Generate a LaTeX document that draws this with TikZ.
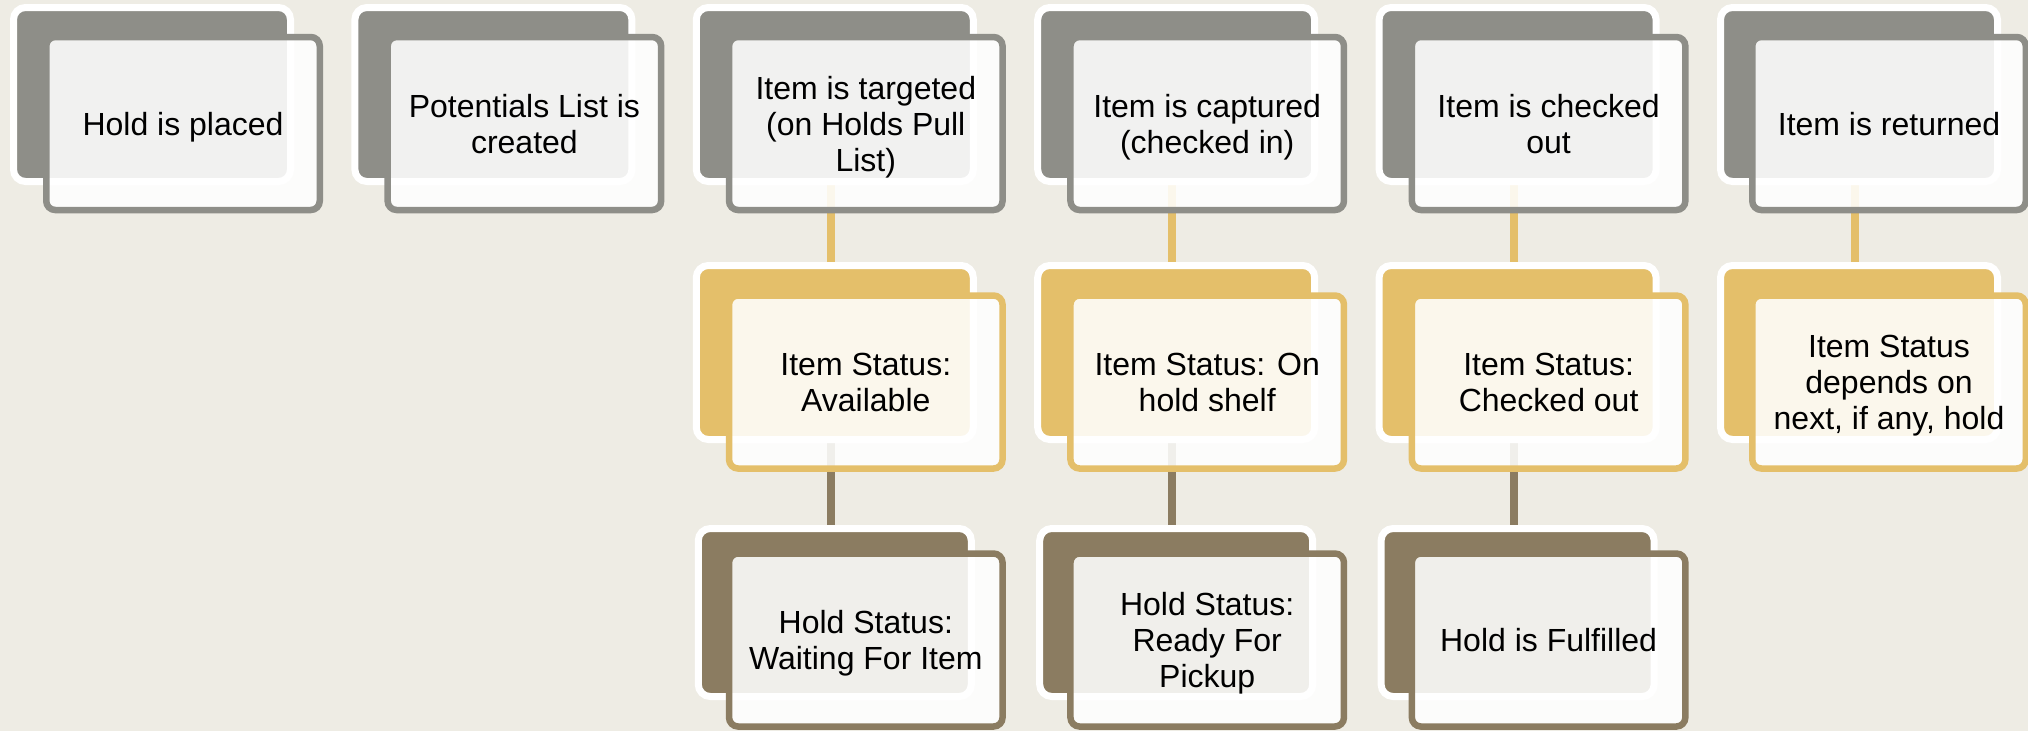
\documentclass[tikz,border=0pt]{standalone}
\usepackage{fontspec}
\setmainfont{Liberation Sans}
\pgfdeclarelayer{backdrop}
\pgfdeclarelayer{links}
\pgfsetlayers{backdrop,links,main}
\definecolor{bgc}{HTML}{EEECE4}
\definecolor{grayc}{HTML}{8E8E88}
\definecolor{goldc}{HTML}{E4BF6A}
\definecolor{brownc}{HTML}{8B7C61}
\tikzset{
  backbox/.style={rectangle, rounded corners=12pt, draw=white, line width=7pt, fill=#1,
    minimum width=277pt, minimum height=174pt, inner sep=0pt, outer sep=0pt},
  backlow/.style={backbox=#1, minimum width=273pt, minimum height=168pt},
  frontbox/.style={rectangle, rounded corners=9pt, draw=#1, line width=6.5pt, fill=white,
    fill opacity=0.88, text opacity=1, minimum width=273.5pt, minimum height=173pt,
    inner sep=0pt, outer sep=0pt, align=center, text=black, text depth=-4pt,
    font=\fontsize{32}{36}\selectfont},
  link/.style={line width=8pt, draw=#1},
}
\begin{document}
\begin{tikzpicture}[x=1pt,y=-1pt]
\useasboundingbox (0,0) rectangle (2028,731);
\begin{pgfonlayer}{backdrop}
\fill[bgc] (0,0) rectangle (2028,731);
\end{pgfonlayer}

% row 1 back boxes
\node[backbox=grayc] (b11) at (152,94.5) {};
\node[backbox=grayc] (b21) at (493.4,94.5) {};
\node[backbox=grayc] (b31) at (834.8,94.5) {};
\node[backbox=grayc] (b41) at (1176.2,94.5) {};
\node[backbox=grayc] (b51) at (1517.6,94.5) {};
\node[backbox=grayc] (b61) at (1859,94.5) {};
% row 1 front boxes
\node[frontbox=grayc] (f11) at (183,123.5) {Hold is placed};
\node[frontbox=grayc] (f21) at (524.4,123.5) {Potentials List is\\created};
\node[frontbox=grayc] (f31) at (865.8,123.5) {Item is targeted\\(on Holds Pull\\List)};
\node[frontbox=grayc] (f41) at (1207.2,123.5) {Item is captured\\(checked in)};
\node[frontbox=grayc] (f51) at (1548.6,123.5) {Item is checked\\out};
\node[frontbox=grayc] (f61) at (1889,123.5) {Item is returned};

% row 2
\node[backbox=goldc] (b32) at (834.8,352.5) {};
\node[backbox=goldc] (b42) at (1176.2,352.5) {};
\node[backbox=goldc] (b52) at (1517.6,352.5) {};
\node[backbox=goldc] (b62) at (1859,352.5) {};
\node[frontbox=goldc] (f32) at (865.8,382) {Item Status:\\Available};
\node[frontbox=goldc] (f42) at (1207.2,382) {Item Status: On\\hold shelf};
\node[frontbox=goldc] (f52) at (1548.6,382) {Item Status:\\Checked out};
\node[frontbox=goldc] (f62) at (1889,382) {Item Status\\depends on\\next, if any, hold};

% row 3
\node[backlow=brownc] (b33) at (834.8,612.5) {};
\node[backlow=brownc] (b43) at (1176.2,612.5) {};
\node[backlow=brownc] (b53) at (1517.6,612.5) {};
\node[frontbox=brownc] (f33) at (865.8,640) {Hold Status:\\Waiting For Item};
\node[frontbox=brownc] (f43) at (1207.2,640) {Hold Status:\\Ready For\\Pickup};
\node[frontbox=brownc] (f53) at (1548.6,640) {Hold is Fulfilled};

% connectors
\begin{pgfonlayer}{links}
\draw[link=goldc] ([xshift=-4pt]b31.south) -- ([xshift=-4pt]b32.north);
\draw[link=goldc] ([xshift=-4pt]b41.south) -- ([xshift=-4pt]b42.north);
\draw[link=goldc] ([xshift=-4pt]b51.south) -- ([xshift=-4pt]b52.north);
\draw[link=goldc] ([xshift=-4pt]b61.south) -- ([xshift=-4pt]b62.north);
\draw[link=brownc] ([xshift=-4pt]b32.south) -- ([xshift=-4pt]b33.north);
\draw[link=brownc] ([xshift=-4pt]b42.south) -- ([xshift=-4pt]b43.north);
\draw[link=brownc] ([xshift=-4pt]b52.south) -- ([xshift=-4pt]b53.north);
\end{pgfonlayer}
\end{tikzpicture}
\end{document}
